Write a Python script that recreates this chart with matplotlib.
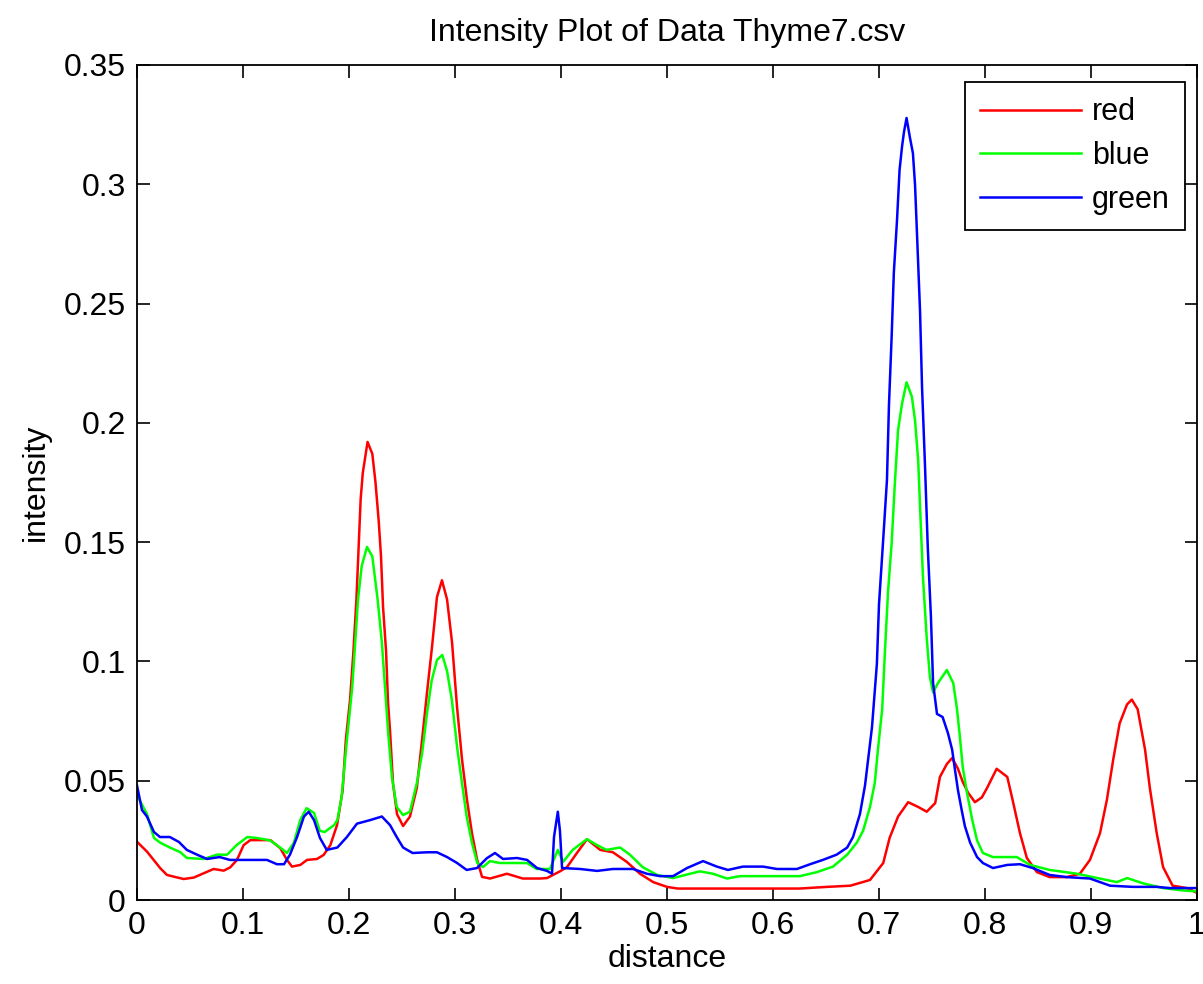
import numpy as np
import matplotlib
matplotlib.use("Agg")
import matplotlib.pyplot as plt

plt.rcParams['font.family'] = ['Liberation Sans', 'DejaVu Sans']

# series
red_x = [0.0, 0.0094, 0.0157, 0.022, 0.0283, 0.0346, 0.044, 0.0535, 0.0629, 0.0723,
         0.0818, 0.088, 0.0943, 0.1006, 0.1069, 0.1258, 0.1352, 0.1415, 0.1462, 0.1541,
         0.1604, 0.1698, 0.1761, 0.1824, 0.1887, 0.194, 0.197, 0.201, 0.204, 0.207,
         0.211, 0.213, 0.2175, 0.222, 0.225, 0.228, 0.2302, 0.2321, 0.235, 0.2368,
         0.2387, 0.2415, 0.2453, 0.251, 0.2575, 0.264, 0.2689, 0.2736, 0.2783, 0.283,
         0.2877, 0.2925, 0.2972, 0.3019, 0.3066, 0.3113, 0.316, 0.3208, 0.3255, 0.333,
         0.349, 0.364, 0.380, 0.3868, 0.399, 0.4057, 0.415, 0.4245, 0.437, 0.449,
         0.462, 0.4745, 0.487, 0.500, 0.51, 0.625, 0.651, 0.673, 0.6915, 0.704,
         0.710, 0.718, 0.7275, 0.737, 0.745, 0.753, 0.7575, 0.764, 0.769, 0.7745,
         0.779, 0.784, 0.7905, 0.797, 0.802, 0.811, 0.821, 0.826, 0.833, 0.8395,
         0.849, 0.861, 0.877, 0.8895, 0.899, 0.9085, 0.915, 0.921, 0.927, 0.934,
         0.9385, 0.944, 0.951, 0.9555, 0.962, 0.968, 0.977, 0.9905, 1.0]
red_y = [0.0244, 0.0203, 0.0168, 0.0133, 0.0105, 0.0098, 0.0088, 0.0094, 0.0112, 0.013,
         0.0123, 0.0137, 0.0168, 0.023, 0.0251, 0.0251, 0.0217, 0.0168, 0.014, 0.0147,
         0.0168, 0.0172, 0.0189, 0.023, 0.0314, 0.046, 0.067, 0.084, 0.103, 0.126,
         0.168, 0.179, 0.192, 0.187, 0.175, 0.159, 0.144, 0.123, 0.104, 0.083,
         0.071, 0.049, 0.036, 0.031, 0.035, 0.047, 0.067, 0.087, 0.106, 0.127,
         0.134, 0.126, 0.108, 0.081, 0.059, 0.042, 0.028, 0.017, 0.0097, 0.009,
         0.011, 0.009, 0.009, 0.0092, 0.012, 0.0138, 0.0197, 0.0255, 0.021, 0.020,
         0.016, 0.011, 0.0075, 0.0055, 0.0048, 0.0048, 0.0055, 0.006, 0.0084, 0.0155,
         0.026, 0.035, 0.041, 0.039, 0.037, 0.0406, 0.0516, 0.057, 0.0595, 0.055,
         0.0495, 0.045, 0.041, 0.043, 0.047, 0.055, 0.0516, 0.042, 0.028, 0.0176,
         0.0117, 0.0096, 0.0096, 0.011, 0.0168, 0.028, 0.042, 0.059, 0.074, 0.082,
         0.084, 0.080, 0.063, 0.047, 0.028, 0.0138, 0.006, 0.005, 0.003]

blue_x = [0.0, 0.0094, 0.016, 0.022, 0.031, 0.041, 0.047, 0.063, 0.0755, 0.085,
          0.094, 0.104, 0.113, 0.1255, 0.135, 0.1415, 0.148, 0.154, 0.160, 0.167,
          0.1725, 0.177, 0.186, 0.189, 0.193, 0.198, 0.203, 0.206, 0.2085, 0.212,
          0.217, 0.222, 0.2245, 0.227, 0.231, 0.234, 0.237, 0.2405, 0.245, 0.251,
          0.2575, 0.264, 0.269, 0.2735, 0.278, 0.283, 0.288, 0.2925, 0.297, 0.302,
          0.3066, 0.311, 0.316, 0.321, 0.3264, 0.333, 0.3425, 0.3547, 0.368, 0.377,
          0.3896, 0.397, 0.402, 0.411, 0.4245, 0.434, 0.443, 0.4557, 0.465, 0.477,
          0.4906, 0.5057, 0.5217, 0.531, 0.5434, 0.5566, 0.569, 0.6255, 0.6415, 0.6566,
          0.67, 0.679, 0.685, 0.6915, 0.696, 0.699, 0.703, 0.7057, 0.7085, 0.712,
          0.715, 0.718, 0.7217, 0.726, 0.731, 0.734, 0.737, 0.7387, 0.7415, 0.745,
          0.748, 0.751, 0.7557, 0.764, 0.77, 0.7736, 0.7764, 0.779, 0.783, 0.788,
          0.7925, 0.798, 0.8075, 0.830, 0.8425, 0.861, 0.887, 0.906, 0.9245, 0.934,
          0.949, 0.968, 0.987, 1.0]
blue_y = [0.044, 0.036, 0.026, 0.024, 0.022, 0.020, 0.0176, 0.0172, 0.019, 0.019,
          0.023, 0.0264, 0.026, 0.025, 0.022, 0.0197, 0.024, 0.0335, 0.0385, 0.0365,
          0.029, 0.0285, 0.0314, 0.0335, 0.043, 0.067, 0.089, 0.109, 0.126, 0.140,
          0.148, 0.144, 0.135, 0.126, 0.108, 0.089, 0.070, 0.0516, 0.039, 0.0356,
          0.037, 0.049, 0.0616, 0.078, 0.092, 0.1006, 0.1027, 0.096, 0.084, 0.064,
          0.049, 0.035, 0.024, 0.0155, 0.0138, 0.0163, 0.0155, 0.0155, 0.0155, 0.013,
          0.013, 0.021, 0.016, 0.021, 0.0255, 0.023, 0.021, 0.022, 0.019, 0.0138,
          0.0105, 0.0092, 0.011, 0.012, 0.011, 0.009, 0.010, 0.010, 0.0117, 0.014,
          0.019, 0.024, 0.029, 0.039, 0.049, 0.063, 0.080, 0.105, 0.129, 0.150,
          0.175, 0.197, 0.208, 0.217, 0.211, 0.201, 0.184, 0.165, 0.135, 0.110,
          0.0935, 0.087, 0.091, 0.0964, 0.091, 0.080, 0.068, 0.0557, 0.045, 0.0335,
          0.025, 0.0197, 0.018, 0.018, 0.0147, 0.0126, 0.011, 0.0092, 0.0075, 0.0092,
          0.007, 0.005, 0.004, 0.0036]

green_x = [0.0, 0.0047, 0.0094, 0.016, 0.0217, 0.031, 0.0396, 0.047, 0.0566, 0.066,
           0.078, 0.0877, 0.104, 0.1226, 0.132, 0.1387, 0.1443, 0.151, 0.1575, 0.162,
           0.167, 0.1726, 0.179, 0.189, 0.198, 0.2075, 0.22, 0.231, 0.2387, 0.245,
           0.251, 0.260, 0.2736, 0.283, 0.2925, 0.302, 0.311, 0.3208, 0.330, 0.3377,
           0.3453, 0.3585, 0.368, 0.3774, 0.3868, 0.3915, 0.3934, 0.3953, 0.397, 0.399,
           0.401, 0.418, 0.434, 0.449, 0.468, 0.481, 0.4934, 0.5057, 0.5189, 0.534,
           0.547, 0.5575, 0.5717, 0.5906, 0.6037, 0.6226, 0.635, 0.647, 0.660, 0.670,
           0.6755, 0.682, 0.6868, 0.6934, 0.698, 0.70, 0.7038, 0.7075, 0.7094, 0.712,
           0.714, 0.717, 0.7194, 0.7217, 0.7236, 0.726, 0.729, 0.732, 0.734, 0.736,
           0.7387, 0.7406, 0.7434, 0.746, 0.749, 0.751, 0.7547, 0.760, 0.765, 0.769,
           0.7717, 0.7745, 0.778, 0.781, 0.786, 0.7925, 0.798, 0.8075, 0.821, 0.833,
           0.845, 0.861, 0.877, 0.899, 0.918, 0.9396, 0.962, 0.9745, 1.0]
green_y = [0.048, 0.0377, 0.035, 0.0285, 0.0264, 0.0264, 0.0243, 0.021, 0.019, 0.0172,
           0.018, 0.0168, 0.0168, 0.0168, 0.015, 0.015, 0.019, 0.0264, 0.035, 0.037,
           0.0335, 0.026, 0.021, 0.022, 0.0264, 0.032, 0.0335, 0.035, 0.0314, 0.0264,
           0.022, 0.0197, 0.020, 0.020, 0.018, 0.0155, 0.0126, 0.0134, 0.0175, 0.0197,
           0.0172, 0.0176, 0.0168, 0.0134, 0.0122, 0.011, 0.0264, 0.032, 0.037, 0.029,
           0.0134, 0.013, 0.0122, 0.013, 0.013, 0.011, 0.010, 0.010, 0.0134, 0.0163,
           0.014, 0.0126, 0.014, 0.014, 0.013, 0.013, 0.015, 0.0168, 0.019, 0.022,
           0.0264, 0.036, 0.048, 0.0725, 0.099, 0.124, 0.150, 0.176, 0.2075, 0.237,
           0.263, 0.285, 0.306, 0.3157, 0.322, 0.3278, 0.320, 0.313, 0.2997, 0.2775,
           0.247, 0.215, 0.182, 0.148, 0.1186, 0.091, 0.078, 0.0767, 0.070, 0.063,
           0.0545, 0.046, 0.0377, 0.031, 0.024, 0.018, 0.0155, 0.0134, 0.0147, 0.015,
           0.0134, 0.0105, 0.0096, 0.009, 0.006, 0.0055, 0.0055, 0.005, 0.005]

xticks = [0, 0.1, 0.2, 0.3, 0.4, 0.5, 0.6, 0.7, 0.8, 0.9, 1]
xtick_labels = ['0', '0.1', '0.2', '0.3', '0.4', '0.5', '0.6', '0.7', '0.8', '0.9', '1']
yticks = [0, 0.05, 0.1, 0.15, 0.2, 0.25, 0.3, 0.35]
ytick_labels = ['0', '0.05', '0.1', '0.15', '0.2', '0.25', '0.3', '0.35']

fig = plt.figure(figsize=(12.03, 9.84), dpi=100)
ax = fig.add_axes([137 / 1203, 1 - 900 / 984, 1060 / 1203, 835 / 984])

ax.plot(red_x, red_y, color=(1, 0, 0), lw=1.8, label='red')
ax.plot(blue_x, blue_y, color=(0, 1, 0), lw=1.8, label='blue')
ax.plot(green_x, green_y, color=(0, 0, 1), lw=1.8, label='green')

ax.set_xlim(0, 1)
ax.set_ylim(0, 0.35)
ax.set_xticks(xticks)
ax.set_xticklabels(xtick_labels)
ax.set_yticks(yticks)
ax.set_yticklabels(ytick_labels)
ax.tick_params(direction='in', length=9, width=1.2, labelsize=23,
               top=True, right=True, pad=8, colors='black')
for s in ax.spines.values():
    s.set_linewidth(1.3)

ax.set_title('Intensity Plot of Data Thyme7.csv', fontsize=23, pad=17)
ax.set_xlabel('distance', fontsize=23, labelpad=2)
ax.set_ylabel('intensity', fontsize=23, labelpad=9)

leg = ax.legend(loc='upper right', bbox_to_anchor=(0.9887, 0.9796), borderaxespad=0,
                fontsize=22, fancybox=False, edgecolor='black', framealpha=1,
                handlelength=3.3, handletextpad=0.35, labelspacing=0.45,
                borderpad=0.5)
leg.get_frame().set_linewidth(1.3)

fig.savefig('out.png', dpi=100)
